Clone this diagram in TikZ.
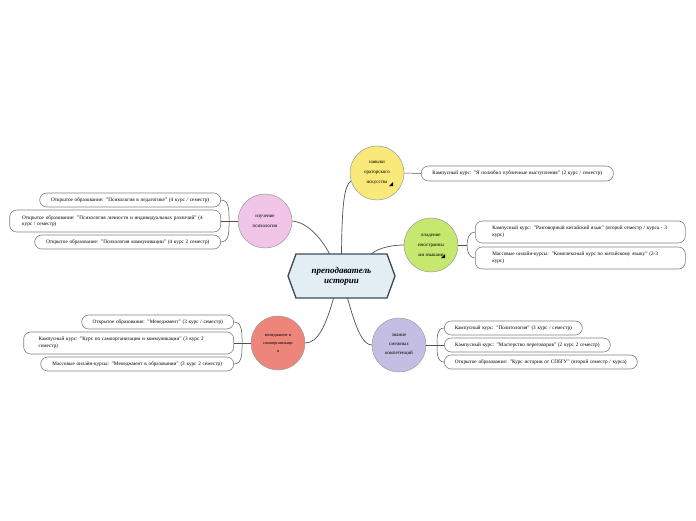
\documentclass[tikz,border=0pt]{standalone}
\usepackage{fontspec}
\setmainfont{Liberation Serif}
\definecolor{boxgray}{HTML}{808080}
\definecolor{circgray}{HTML}{9A9A9A}
\definecolor{linkgray}{HTML}{505050}
\definecolor{hexfill}{HTML}{E2EEF4}
\definecolor{hexline}{HTML}{3C4A52}
\definecolor{cyellow}{HTML}{F8E97A}
\definecolor{cgreen}{HTML}{C6E86E}
\definecolor{cpurple}{HTML}{C5BEE4}
\definecolor{cpink}{HTML}{F0C5E7}
\definecolor{cred}{HTML}{EE857B}
\begin{document}
\begin{tikzpicture}[x=1pt,y=-1pt,
  box/.style={draw=boxgray, line width=0.6pt, rounded corners=7pt, fill=white,
    font=\fontsize{5.2}{6.6}\selectfont, inner xsep=0pt, inner ysep=0pt, anchor=west},
  topic/.style={circle, draw=circgray, line width=0.5pt, minimum size=54pt, inner sep=0pt,
    align=center, font=\fontsize{5}{10}\selectfont},
  link/.style={draw=linkgray, line width=0.7pt},
  notemark/.style={fill=black}]
\useasboundingbox (0,0) rectangle (696,520);
\fill[white] (0,0) rectangle (696,520);

% central hexagon
\draw[fill=hexfill, draw=hexline, line width=1.3pt]
  (296,254) -- (387,254) -- (395,276) -- (387,298) -- (296,298) -- (288,276) -- cycle;
\node[minimum width=107pt, minimum height=44pt, inner sep=0pt, align=center,
  font=\fontsize{9}{10}\selectfont\bfseries\itshape] (hex) at (341.5,276) {преподаватель\\истории};

% topic circles
\node[topic, fill=cyellow] (yc) at (377,173) {навыки\\ораторского\\искусства};
\fill[notemark] (389,186) -- (393,186) -- (393,182) -- cycle;
\node[topic, fill=cgreen] (gc) at (431,245) {владение\\иностранны\\ми языками};
\fill[notemark] (441,258) -- (445,258) -- (445,254) -- cycle;
\node[topic, fill=cpurple, font=\fontsize{5}{9}\selectfont] (uc) at (399,345) {знание\\смежных\\компетенций};
\node[topic, fill=cpink] (pc) at (265,221) {изучение\\психологии};
\node[topic, fill=cred, font=\fontsize{4.3}{8}\selectfont] (rc) at (278,343) {менеджмент и\\самоорганизаци\\я};

% links from the centre
\draw[link] (hex.north) .. controls (342,205) and (344,186) .. (yc.197);
\draw[link] ([xshift=30pt]hex.north) .. controls (380,247) and (394,245) .. (gc.west);
\draw[link] ([xshift=-12pt]hex.north) .. controls (320,236) and (306,222) .. (pc.east);
\draw[link] ([xshift=-8pt]hex.south) .. controls (326,325) and (318,343) .. (rc.east);
\draw[link] ([xshift=6pt]hex.south) .. controls (355,325) and (362,345) .. (uc.west);

% boxes: yellow
\node[box, minimum width=192pt, minimum height=15pt, text width=174pt, align=center] (yb) at (421,173.5)
  {Кампусный курс: "Я полюбил публичные выступления" (2 курс / семестр)};
\draw[link, line width=0.5pt] (yc.east) -- (yb.west);

% boxes: green
\node[box, minimum width=210pt, minimum height=22pt, text width=176pt, align=left] (gb1) at (475,232)
  {Кампусный курс: "Разговорный китайский язык" (второй семестр / курса - 3 курс)};
\node[box, minimum width=210pt, minimum height=22pt, text width=176pt, align=left] (gb2) at (475,258)
  {Массовые онлайн-курсы: "Комплексный курс по китайскому языку" (2-3 курс)};
\coordinate (gj) at (467,245);
\draw[link, line width=0.5pt] (gc.east) -- (gj);
\draw[link, line width=0.5pt] (gj) to[out=90,in=180] (gb1.west);
\draw[link, line width=0.5pt] (gj) to[out=-90,in=180] (gb2.west);

% boxes: purple
\node[box, minimum width=138pt, minimum height=14pt, text width=122pt, align=center] (ub1) at (444,328)
  {Кампусный курс: "Политология" (3 курс / семестр)};
\node[box, minimum width=166pt, minimum height=14pt, text width=150pt, align=center] (ub2) at (444,345)
  {Кампусный курс: "Мастерство переговоров" (2 курс 2 семестр)};
\node[box, minimum width=193pt, minimum height=14pt, text width=180pt, align=center] (ub3) at (444,362)
  {Открытое образование: "Курс истории от СПбГУ" (второй семестр / курса)};
\coordinate (uj) at (437,345);
\draw[link, line width=0.5pt] (uc.east) -- (ub2.west);
\draw[link, line width=0.5pt] (uj) to[out=90,in=180] (ub1.west);
\draw[link, line width=0.5pt] (uj) to[out=-90,in=180] (ub3.west);

% boxes: pink
\node[box, anchor=east, minimum width=181pt, minimum height=14pt, text width=165pt, align=center] (pb1) at (221,200)
  {Открытое образование: "Психология в педагогике" (4 курс / семестр)};
\node[box, anchor=east, minimum width=211pt, minimum height=22pt, text width=186pt, align=left] (pb2) at (221,221)
  {Открытое образование: "Психология личности и индивидуальных различий" (4 курс / семестр)};
\node[box, anchor=east, minimum width=186pt, minimum height=14pt, text width=170pt, align=center] (pb3) at (221,242)
  {Открытое образование: "Психология коммуникации" (4 курс 2 семестр)};
\coordinate (pj) at (229,221);
\draw[link, line width=0.5pt] (pc.west) -- (pb2.east);
\draw[link, line width=0.5pt] (pj) to[out=90,in=0] (pb1.east);
\draw[link, line width=0.5pt] (pj) to[out=-90,in=0] (pb3.east);

% boxes: red
\node[box, anchor=east, minimum width=152pt, minimum height=14pt, text width=136pt, align=center] (rb1) at (234,322)
  {Открытое образование: "Менеджмент" (3 курс / семестр)};
\node[box, anchor=east, minimum width=210pt, minimum height=22pt, text width=180pt, align=left] (rb2) at (234,343)
  {Кампусный курс: "Курс по самоорганизации и коммуникации" (3 курс 2 семестр)};
\node[box, anchor=east, minimum width=193pt, minimum height=14pt, text width=177pt, align=center] (rb3) at (234,364)
  {Массовые онлайн-курсы: "Менеджмент в образовании" (3 курс 2 семестр)};
\coordinate (rj) at (242,343);
\draw[link, line width=0.5pt] (rc.west) -- (rb2.east);
\draw[link, line width=0.5pt] (rj) to[out=90,in=0] (rb1.east);
\draw[link, line width=0.5pt] (rj) to[out=-90,in=0] (rb3.east);
\end{tikzpicture}
\end{document}
